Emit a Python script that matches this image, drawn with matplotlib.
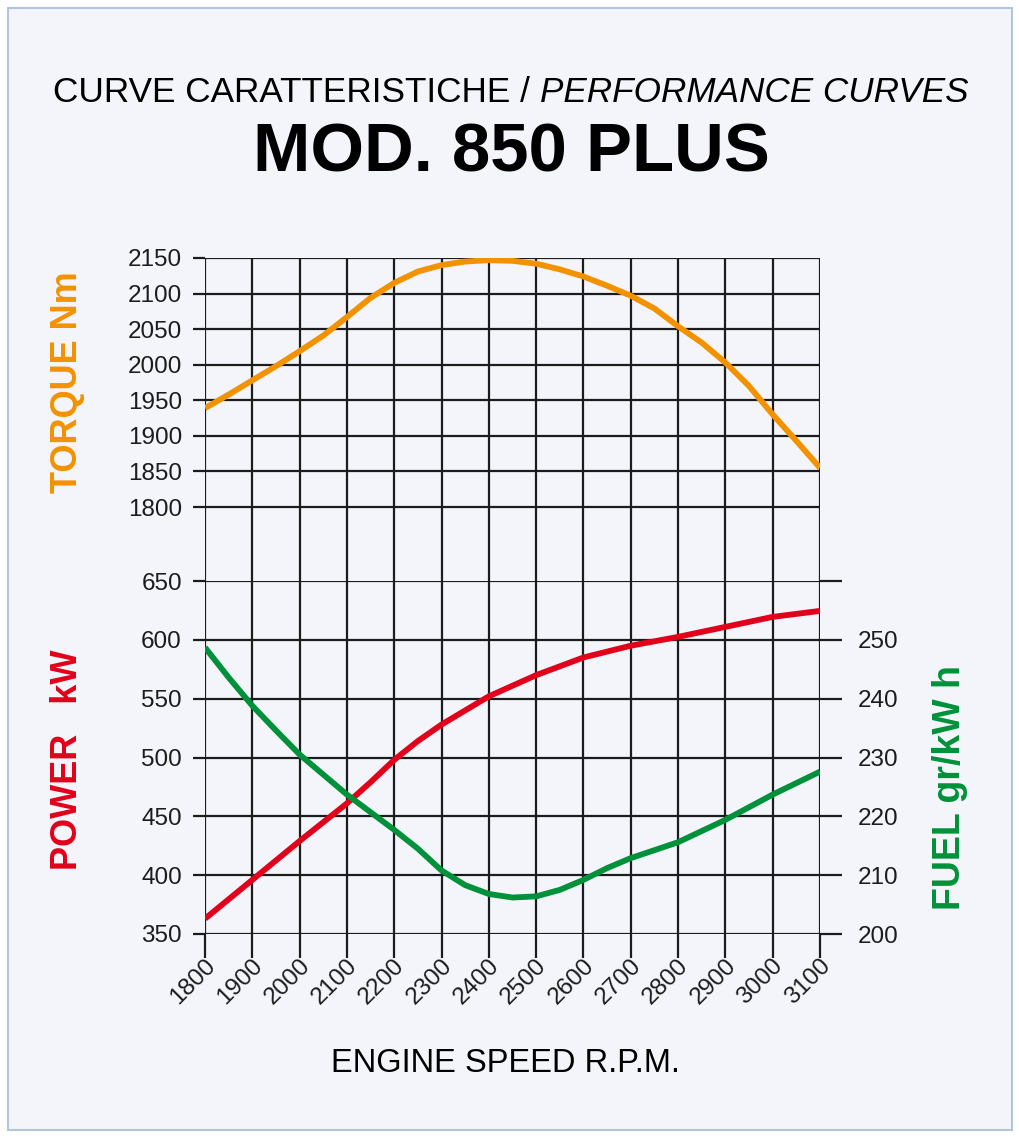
import matplotlib
matplotlib.use("Agg")
import matplotlib.pyplot as plt
import matplotlib.transforms as mtransforms
from matplotlib.patches import Rectangle

# performance curves, mod. 850 plus

rpm_t = [1800, 1850, 1900, 1950, 2000, 2050, 2100, 2150, 2200, 2250, 2300, 2350, 2400, 2450,
         2500, 2550, 2600, 2650, 2700, 2750, 2800, 2850, 2900, 2950, 3000, 3050, 3100]
torque = [1939, 1958, 1978, 1998, 2019, 2041, 2067, 2094, 2115, 2131, 2140, 2145, 2147, 2146,
          2142, 2134, 2124, 2111, 2097, 2079, 2054, 2031, 2003, 1970, 1930, 1893, 1855]

rpm_p = [1800, 1900, 2000, 2100, 2150, 2200, 2250, 2300, 2350, 2400, 2500, 2600, 2700, 2800, 2900, 3000, 3100]
power = [363, 396, 429, 461, 479, 498, 514, 528, 540, 552, 570, 585, 595, 602.5, 611, 619.5, 624.6]

rpm_f = [1800, 1850, 1900, 1950, 2000, 2100, 2200, 2250, 2300, 2350, 2400, 2450, 2500, 2550,
         2600, 2650, 2700, 2800, 2900, 3000, 3100]
fuel = [248.7, 243.6, 238.8, 234.6, 230.5, 223.7, 217.7, 214.5, 210.8, 208.3, 206.8, 206.2, 206.4, 207.5,
        209.2, 211.2, 212.9, 215.6, 219.4, 223.7, 227.6]

rpm_ticks = list(range(1800, 3101, 100))
torque_ticks = list(range(1800, 2151, 50))
power_ticks = list(range(350, 651, 50))
fuel_ticks = list(range(200, 261, 10))

ORANGE = "#f39200"
RED = "#e2001a"
GREEN = "#00913a"
INK = "#1c1c1c"
BG = "#f3f5fa"

plt.rcParams["font.family"] = ["Liberation Sans", "DejaVu Sans"]

W, H = 1020, 1138
fig = plt.figure(figsize=(W / 100, H / 100), dpi=100)
fig.patch.set_facecolor("white")
fig.patches.append(Rectangle((8 / W, 1 - 1130 / H), 1004 / W, 1122 / H, transform=fig.transFigure,
                             facecolor=BG, edgecolor="#b4c4dd", lw=1.5, zorder=-5))

x0, x1 = 205 / W, 820 / W
# torque panel reaches down to the power panel so its vertical lines run through the gap
ax_t = fig.add_axes([x0, 1 - 581 / H, x1 - x0, (581 - 258) / H])
ax_p = fig.add_axes([x0, 1 - 934 / H, x1 - x0, (934 - 581) / H])
ax_f = ax_p.twinx()

for ax in (ax_t, ax_p, ax_f):
    ax.set_facecolor("none")
    for s in ax.spines.values():
        s.set_visible(False)

line_kw = dict(lw=4.2, solid_capstyle="butt", solid_joinstyle="round", zorder=3)

gap = (581 - 507) * 350 / (507 - 258)
ax_t.set_xlim(1800, 3100)
ax_t.set_ylim(1800 - gap, 2150)
ax_t.set_xticks(rpm_ticks)
ax_t.set_yticks(torque_ticks)
ax_t.grid(True, color=INK, lw=1.6)
ax_t.tick_params(axis="x", length=0, labelbottom=False)
ax_t.tick_params(axis="y", length=8.6, width=1.6, color=INK, pad=8, labelsize=17.5, labelcolor=INK)
ax_t.plot(rpm_t, torque, color=ORANGE, **line_kw)

# power panel
ax_p.set_xlim(1800, 3100)
ax_p.set_ylim(350, 650)
ax_p.set_xticks(rpm_ticks)
ax_p.set_yticks(power_ticks)
ax_p.grid(True, color=INK, lw=1.6)
ax_p.tick_params(axis="x", length=17, width=1.6, color=INK, pad=2, labelsize=17.5, labelcolor=INK)
ax_p.tick_params(axis="y", length=8.6, width=1.6, color=INK, pad=8, labelsize=17.5, labelcolor=INK)
shift = mtransforms.ScaledTranslation(7 / 100, -2 / 100, fig.dpi_scale_trans)
for lab in ax_p.get_xticklabels():
    lab.set_rotation(45)
    lab.set_ha("right")
    lab.set_va("center")
    lab.set_rotation_mode("anchor")
    lab.set_transform(lab.get_transform() + shift)
ax_p.plot(rpm_p, power, color=RED, **line_kw)

ax_f.set_ylim(200, 260)
ax_f.set_yticks(fuel_ticks)
ax_f.set_yticklabels([str(v) if v < 260 else "" for v in fuel_ticks])
ax_f.tick_params(axis="y", length=16, width=1.6, color=INK, pad=11, labelsize=17.5, labelcolor=INK)
ax_f.plot(rpm_f, fuel, color=GREEN, **line_kw)

# axis titles
fig.text(68 / W, 1 - 382 / H, "TORQUE Nm", rotation=90, color=ORANGE, fontsize=26,
         fontweight="bold", ha="center", va="center")
fig.text(68 / W, 1 - 760 / H, "POWER   kW", rotation=90, color=RED, fontsize=26,
         fontweight="bold", ha="center", va="center")
fig.text(950 / W, 1 - 788 / H, "FUEL gr/kW h", rotation=90, color=GREEN, fontsize=27,
         fontweight="bold", ha="center", va="center")
fig.text(506 / W, 1 - 1063 / H, "ENGINE SPEED R.P.M.", color="black", fontsize=23.5,
         ha="center", va="center")

# header
fig.text(540 / W, 1 - 93 / H, "CURVE CARATTERISTICHE / ", fontsize=25.3,
         ha="right", va="center", color="black")
fig.text(540 / W, 1 - 93 / H, "PERFORMANCE CURVES", fontsize=25.3, style="italic",
         ha="left", va="center", color="black")
fig.text(511 / W, 1 - 154 / H, "MOD. 850 PLUS", fontsize=49.6, fontweight="bold",
         ha="center", va="center", color="black")

fig.savefig("out.png", dpi=100, facecolor=fig.get_facecolor())
